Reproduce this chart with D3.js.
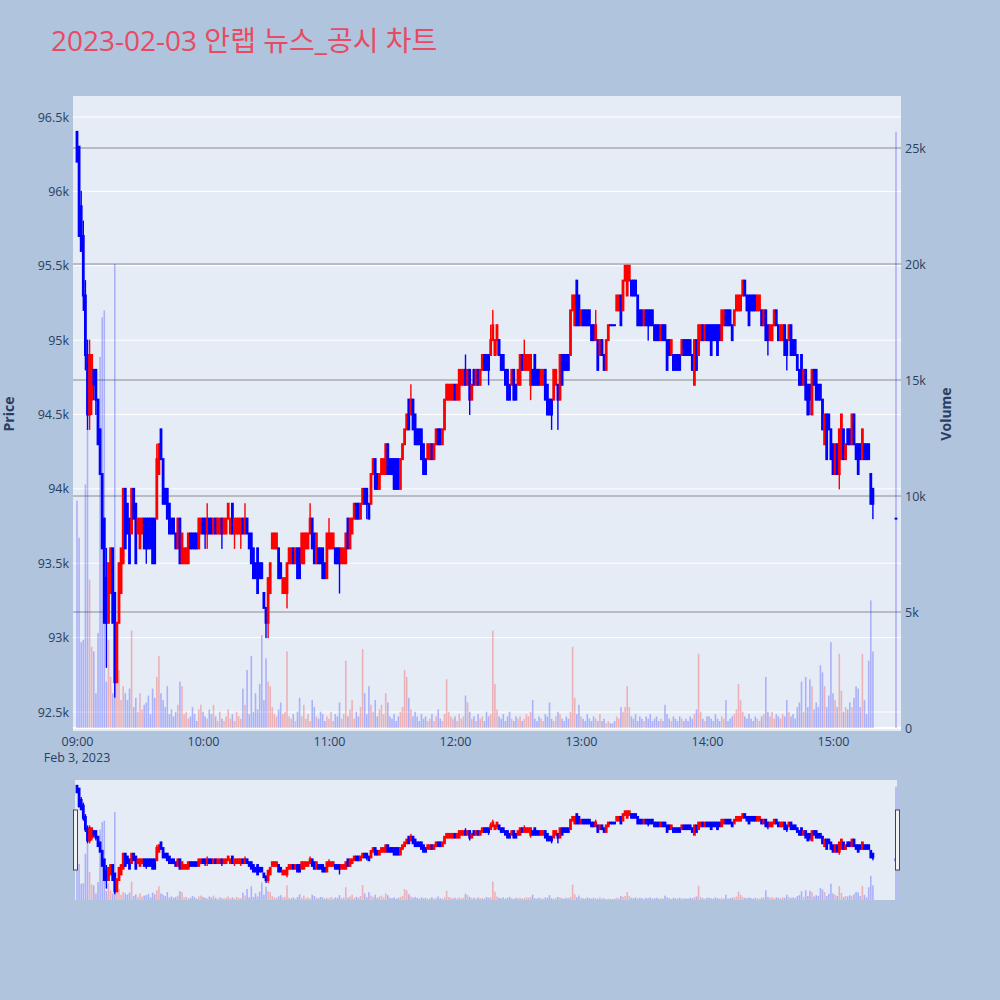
<!DOCTYPE html>
<html><head><meta charset="utf-8">
<script src="https://cdn.jsdelivr.net/npm/d3@7"></script>
<style>body{margin:0;background:#B0C4DE;}svg{display:block;font-family:"Open Sans","Noto Sans CJK KR",sans-serif;}</style>
</head><body><svg id="chart" width="1000" height="1000"></svg>
<script>
// ---- data (prices in units of 100 KRW, one candle per minute from 09:00) ----
const PRICE_UNIT = 100;
const sessionDate = [2023, 1, 3];
const sessionStart = [9, 0];
const opens = [
964,963,959,957,953,949,945,946,948,948, 946,944,941,938,934,931,933,936,933,927,
931,933,935,940,939,938,937,940,939,937, 936,937,938,938,938,938,938,938,938,941,
944,942,940,940,939,938,938,937,936,938, 935,935,935,935,937,937,937,937,936,937,
938,938,937,938,938,937,938,937,937,938, 937,937,938,937,939,937,937,937,937,938,
937,938,937,937,936,935,936,935,935,933, 932,931,933,936,936,936,936,935,933,933,
933,935,935,936,935,936,936,935,935,936, 936,937,938,937,935,936,936,936,935,934,
936,936,936,936,936,936,935,935,935,938, 936,937,938,939,939,938,939,940,940,939,
939,941,942,941,940,941,941,941,943,942, 942,942,942,942,940,942,943,944,946,945,
946,945,944,944,944,943,942,942,942,943, 942,943,944,944,943,944,946,946,946,946,
947,946,946,947,947,948,947,948,946,948, 947,948,947,948,949,949,949,949,950,949,
950,950,949,949,948,948,947,947,948,947, 947,947,949,948,948,948,947,948,949,948,
948,947,947,948,947,946,946,946,947,947, 946,949,949,949,949,949,952,951,954,953,
951,952,952,952,952,951,951,950,950,949, 950,949,948,950,951,951,951,952,952,953,
952,954,953,954,954,954,954,953,952,952, 951,952,952,952,952,951,951,951,950,951,
951,950,950,949,949,949,949,949,949,950, 950,950,950,949,947,950,949,950,951,950,
951,951,951,951,951,951,951,950,951,952, 952,952,951,951,952,952,952,953,954,953,
953,953,953,953,952,952,952,951,952,951, 950,950,951,952,951,950,950,951,950,950,
951,950,950,949,948,949,947,948,947,947, 945,948,948,947,947,946,943,945,945,944,
943,941,943,941,942,944,942,944,944,943, 945,943,943,943,942,943,943,943,941,940];
const highs = [
964,963,960,958,954,950,950,949,948,948, 946,944,941,938,936,935,936,936,933,931,
935,936,940,940,939,938,940,940,939,938, 938,938,938,938,938,938,938,938,943,943,
944,942,940,940,939,938,938,937,938,938, 937,936,936,937,937,937,937,937,938,938,
938,938,939,938,938,938,938,938,938,938, 938,938,939,938,939,938,938,938,938,938,
939,938,937,937,936,935,936,935,935,933, 932,934,935,937,937,937,936,935,934,934,
935,936,936,936,936,936,936,937,937,937, 937,939,938,937,937,936,936,936,935,937,
938,937,937,936,936,936,936,936,937,938, 938,938,939,939,939,939,940,940,940,939,
941,942,942,941,941,942,942,943,943,942, 942,942,942,942,942,943,944,945,946,947,
946,945,944,944,944,943,942,943,943,943, 943,944,944,944,944,946,947,947,947,947,
947,947,948,948,948,949,948,948,947,948, 948,948,948,949,949,949,949,951,952,950,
951,950,949,949,948,948,947,948,948,947, 948,949,949,950,949,949,949,948,949,948,
948,948,948,948,947,946,946,948,948,947, 949,949,949,949,949,952,953,953,954,953,
952,952,952,952,952,951,951,952,950,950, 950,949,950,951,951,951,951,953,953,953,
954,955,955,955,954,954,954,953,952,952, 952,952,952,952,952,951,951,951,951,951,
951,950,950,950,949,949,949,949,950,950, 950,950,950,949,950,950,951,951,951,951,
951,951,951,951,951,951,951,952,952,952, 952,952,951,952,953,953,953,954,954,953,
953,953,953,953,953,953,952,952,952,951, 951,951,952,952,951,951,951,951,950,951,
951,950,950,949,948,949,948,948,947,947, 948,948,948,947,947,946,945,945,945,944,
943,943,943,944,945,944,943,944,944,945, 945,943,943,943,944,943,943,943,941,940];
const lows = [
962,957,956,952,948,944,944,945,946,945, 943,941,936,931,928,931,933,931,926,927,
931,933,935,936,937,935,937,938,935,937, 936,937,936,935,936,936,935,935,938,941,
942,939,939,938,937,937,937,936,936,935, 935,935,935,935,936,936,936,936,936,937,
937,936,936,937,937,937,937,937,937,936, 937,937,938,937,937,936,937,937,936,937,
937,937,936,935,934,934,933,934,934,932, 930,930,933,936,936,936,934,934,933,933,
932,935,935,935,935,934,934,935,935,936, 936,937,936,935,935,935,935,934,934,934,
936,936,936,935,935,933,935,935,935,936, 936,937,938,938,938,938,939,939,938,938,
939,941,940,940,940,941,941,941,941,941, 941,940,940,940,940,942,943,944,944,945,
944,943,943,943,942,941,941,942,942,942, 942,943,943,943,943,944,946,946,946,946,
946,946,946,947,947,947,947,945,946,947, 947,947,947,948,948,948,947,949,950,949,
949,949,948,948,947,946,946,947,946,946, 947,947,948,948,948,948,946,947,947,947,
947,947,947,946,945,945,944,946,947,944, 946,947,948,948,948,949,952,951,951,951,
951,951,951,951,951,950,950,950,948,949, 949,948,948,950,951,951,951,952,952,951,
952,954,953,954,953,953,953,951,951,951, 951,951,950,951,951,950,950,950,950,950,
950,948,949,949,948,948,948,948,949,949, 949,949,949,948,947,948,949,950,950,950,
950,950,949,950,950,949,950,950,951,951, 951,951,950,951,952,952,952,953,953,952,
951,952,952,952,952,952,951,951,950,949, 950,950,951,951,950,950,950,949,948,950,
949,949,949,948,947,947,947,946,945,945, 945,947,946,946,946,944,943,942,944,942,
941,941,941,940,942,942,942,943,943,943, 943,942,941,942,942,942,942,942,939,938];
const closes = [
962,957,956,953,949,945,949,949,947,946, 943,941,936,931,931,935,936,931,927,931,
935,936,940,936,937,935,940,938,935,938, 938,938,936,936,936,936,935,935,942,943,
942,939,939,938,937,937,937,936,938,935, 937,936,936,937,936,936,936,936,938,938,
937,937,938,937,937,938,937,938,938,937, 938,938,939,938,937,938,938,938,938,937,
938,937,936,935,934,934,933,934,934,932, 931,934,935,937,937,937,934,934,934,934,
935,936,936,935,936,934,934,937,937,937, 937,938,936,935,937,935,935,934,934,937,
937,937,937,935,935,935,936,936,937,936, 938,938,939,938,938,939,940,939,939,938,
941,942,940,940,941,942,942,943,941,941, 941,940,940,940,942,943,944,945,944,946,
944,943,943,943,942,941,941,943,943,942, 943,944,943,943,944,946,947,947,947,947,
946,947,948,948,948,947,948,946,947,947, 948,947,948,949,948,948,948,950,951,950,
951,949,948,948,947,946,946,948,946,946, 948,949,948,949,949,949,949,947,947,947,
947,948,948,946,945,945,945,948,948,946, 949,947,948,948,948,952,953,953,951,951,
952,951,951,951,951,950,950,951,948,950, 949,948,950,951,951,951,951,953,953,951,
954,955,955,955,953,953,953,951,951,951, 952,951,951,951,951,950,950,950,951,950,
950,948,949,950,948,948,948,948,950,949, 949,949,949,948,950,948,951,951,950,951,
950,950,949,950,950,949,950,952,952,951, 951,951,950,952,953,953,953,954,953,952,
951,952,952,952,953,953,951,952,950,950, 951,951,952,951,950,951,951,949,949,951,
949,949,949,948,947,947,948,946,945,946, 948,947,946,946,946,944,945,942,944,942,
941,943,941,944,945,942,943,943,943,945, 943,942,941,942,944,942,942,942,939,939];
const volumes = [
9800,8200,3700,3800,10500,12900,6400,3500,3300,1500, 4100,16000,17700,18000,2000,3800,2200,1500,20000,2900,
2500,1200,1800,1500,1200,1700,4200,900,1300,700, 1500,800,1000,1100,1400,600,1700,1300,2200,3100,
1500,1200,900,1800,600,800,500,700,1000,2000, 1800,600,700,400,500,900,600,300,800,1000,
700,500,400,800,600,1000,500,300,700,400, 300,500,800,400,600,300,700,500,400,1700,
1000,2500,600,3100,700,1500,800,1900,4000,1200, 3000,2000,1800,900,600,500,800,1100,600,700,
3300,500,400,600,300,700,1300,500,1000,400, 600,300,1200,900,500,400,700,600,300,500,
400,700,300,600,500,1100,400,600,2900,500, 800,1200,400,700,500,900,3400,1500,600,1800,
1000,700,1200,500,800,1000,600,1500,1100,500, 400,600,300,500,700,900,2500,2200,1300,800,
500,700,500,300,600,400,500,300,400,600, 300,500,800,400,300,600,2100,700,500,400,
500,300,600,400,500,1400,1100,700,400,500, 300,600,400,500,300,700,500,600,4200,1900,
800,500,400,600,300,500,700,400,300,500, 400,500,300,400,600,500,700,1200,400,300,
500,400,300,600,500,1100,400,300,500,700, 600,400,300,500,400,700,3500,1300,600,1000,
500,400,300,600,400,300,500,400,300,600, 300,400,200,300,200,200,300,500,400,900,
700,900,1800,900,500,400,600,300,500,400, 300,500,400,600,300,400,500,300,400,300,
1000,600,400,300,500,400,300,500,400,300, 400,300,500,400,600,800,3200,700,400,300,
500,500,400,300,600,400,300,500,400,1200, 300,400,500,600,800,1900,1200,700,500,400,
600,400,300,500,400,300,500,600,2200,700, 500,700,400,600,500,400,600,500,1200,700,
500,600,400,900,1100,2000,700,2200,900,2100, 1800,800,1100,900,2700,2400,1800,900,1400,3700,
1500,1200,900,3200,1600,700,900,800,1100,900, 1300,1800,1700,900,3200,1200,600,2900,5500,3300];
// closing auction print
const auctionTime = [15, 30];
const auctionOHLC = [938, 938, 938, 938];
const auctionVolume = 25700;
// axis ticks
const priceTicks = [92500, 93000, 93500, 94000, 94500, 95000, 95500, 96000, 96500];
const volumeTicks = [0, 5000, 10000, 15000, 20000, 25000];
const timeTicks = ["09:00", "10:00", "11:00", "12:00", "13:00", "14:00", "15:00"];
const titleText = "2023-02-03 안랩 뉴스_공시 차트";
const dateLabel = "Feb 3, 2023";

// ---- build rows ----
const mkDate = (h, m) => new Date(sessionDate[0], sessionDate[1], sessionDate[2], h, m);
const t0 = mkDate(sessionStart[0], sessionStart[1]);
const rows = opens.map((o, i) => ({
  t: new Date(t0.getTime() + i * 60000),
  o: o * PRICE_UNIT, h: highs[i] * PRICE_UNIT, l: lows[i] * PRICE_UNIT, c: closes[i] * PRICE_UNIT,
  v: volumes[i]
}));
rows.push({t: mkDate(auctionTime[0], auctionTime[1]),
  o: auctionOHLC[0] * PRICE_UNIT, h: auctionOHLC[1] * PRICE_UNIT, l: auctionOHLC[2] * PRICE_UNIT, c: auctionOHLC[3] * PRICE_UNIT,
  v: auctionVolume});

const UP = "#FF0000", DOWN = "#0000FF", TXT = "#2a3f5f", BG = "#E5ECF6";
const svg = d3.select("#chart");
const P = {x0: 73, x1: 901, y0: 96, y1: 731};
const S = {x0: 75, x1: 897, y0: 780, y1: 900};

const parseHM = s => { const [h, m] = s.split(":").map(Number); return mkDate(h, m); };
const x = d3.scaleTime().domain([parseHM("09:00"), parseHM("15:00")]).range([77, 833]);
const yP = d3.scaleLinear().domain([92500, 96500]).range([712, 117]);
const yV = d3.scaleLinear().domain([0, 25000]).range([728, 148]);
const ySP = d3.scaleLinear().domain([92450, 96550]).range([898, 782]);
const ySV = d3.scaleLinear().domain([0, 27000]).range([900, 781]);

// title
svg.append("text").attr("x", 51).attr("y", 51).attr("font-size", 28)
  .attr("fill", "#E94A62").text(titleText);

// backgrounds
svg.append("rect").attr("x", P.x0).attr("y", P.y0).attr("width", P.x1 - P.x0).attr("height", P.y1 - P.y0).attr("fill", BG);
svg.append("rect").attr("x", S.x0).attr("y", S.y0).attr("width", S.x1 - S.x0).attr("height", S.y1 - S.y0).attr("fill", BG);

const defs = svg.append("defs");
defs.append("clipPath").attr("id", "cp").append("rect").attr("x", P.x0).attr("y", P.y0).attr("width", P.x1 - P.x0).attr("height", P.y1 - P.y0);
defs.append("clipPath").attr("id", "cs").append("rect").attr("x", S.x0).attr("y", S.y0).attr("width", S.x1 - S.x0).attr("height", S.y1 - S.y0);

// grids
const g = svg.append("g");
g.selectAll(".pg").data(priceTicks).join("line")
  .attr("x1", P.x0).attr("x2", P.x1).attr("y1", d => yP(d)).attr("y2", d => yP(d))
  .attr("stroke", "#fff").attr("stroke-width", 1);
g.selectAll(".vg").data(volumeTicks).join("line")
  .attr("x1", P.x0).attr("x2", P.x1).attr("y1", d => yV(d)).attr("y2", d => yV(d))
  .attr("stroke", d => d === 0 ? "#fff" : "#8c8c8c").attr("stroke-width", d => d === 0 ? 2 : 1);

function drawSeries(layer, yPrice, yVol, bodyW, barW, pad) {
  layer.selectAll(".vb").data(rows).join("rect")
    .attr("x", d => x(d.t) - barW / 2).attr("width", barW)
    .attr("y", d => yVol(d.v)).attr("height", d => yVol(0) - yVol(d.v))
    .attr("fill", d => d.c > d.o ? UP : DOWN).attr("fill-opacity", 0.25);
  const cg = layer.selectAll(".cd").data(rows).join("g");
  cg.append("rect")
    .attr("x", d => x(d.t) - 0.7).attr("width", 1.4)
    .attr("y", d => yPrice(d.h) - 0.5).attr("height", d => yPrice(d.l) - yPrice(d.h) + 1)
    .attr("fill", d => d.c > d.o ? UP : DOWN);
  cg.append("rect")
    .attr("x", d => x(d.t) - bodyW / 2).attr("width", bodyW)
    .attr("y", d => yPrice(Math.max(d.o, d.c)) - pad)
    .attr("height", d => Math.abs(yPrice(d.o) - yPrice(d.c)) + 2 * pad)
    .attr("fill", d => d.c > d.o ? UP : DOWN);
}
drawSeries(svg.append("g").attr("clip-path", "url(#cp)"), yP, yV, 2.8, 1.6, 1);
drawSeries(svg.append("g").attr("clip-path", "url(#cs)"), ySP, ySV, 2.8, 1.6, 1.4);

// axes
const axL = svg.append("g").attr("transform", `translate(${P.x0},0)`)
  .call(d3.axisLeft(yP).tickValues(priceTicks).tickFormat(d3.format("~s")).tickSize(0).tickPadding(4));
const axR = svg.append("g").attr("transform", `translate(${P.x1},0)`)
  .call(d3.axisRight(yV).tickValues(volumeTicks).tickFormat(d3.format("~s")).tickSize(0).tickPadding(4));
const axB = svg.append("g").attr("transform", `translate(0,${P.y1})`)
  .call(d3.axisBottom(x).tickValues(timeTicks.map(parseHM)).tickFormat(d3.timeFormat("%H:%M")).tickSize(0).tickPadding(6));
[axL, axR, axB].forEach(a => {
  a.select(".domain").remove();
  a.selectAll("text").attr("fill", TXT).attr("font-size", 12.5).attr("font-family", "'Open Sans', sans-serif");
});
svg.append("text").attr("x", x(parseHM("09:00"))).attr("y", 762).attr("text-anchor", "middle")
  .attr("fill", TXT).attr("font-size", 12.5).text(dateLabel);

// axis titles
svg.append("text").attr("transform", "translate(14,414) rotate(-90)").attr("text-anchor", "middle")
  .attr("fill", TXT).attr("font-size", 14).attr("font-weight", "bold").text("Price");
svg.append("text").attr("transform", "translate(951,414) rotate(-90)").attr("text-anchor", "middle")
  .attr("fill", TXT).attr("font-size", 14).attr("font-weight", "bold").text("Volume");

// range slider handles
[S.x0 - 1.5, S.x1 - 1.5].forEach(hx => {
  svg.append("rect").attr("x", hx).attr("y", 810).attr("width", 4).attr("height", 60)
    .attr("fill", "#f2f2f2").attr("stroke", "#444").attr("stroke-width", 1);
});
</script></body></html>
